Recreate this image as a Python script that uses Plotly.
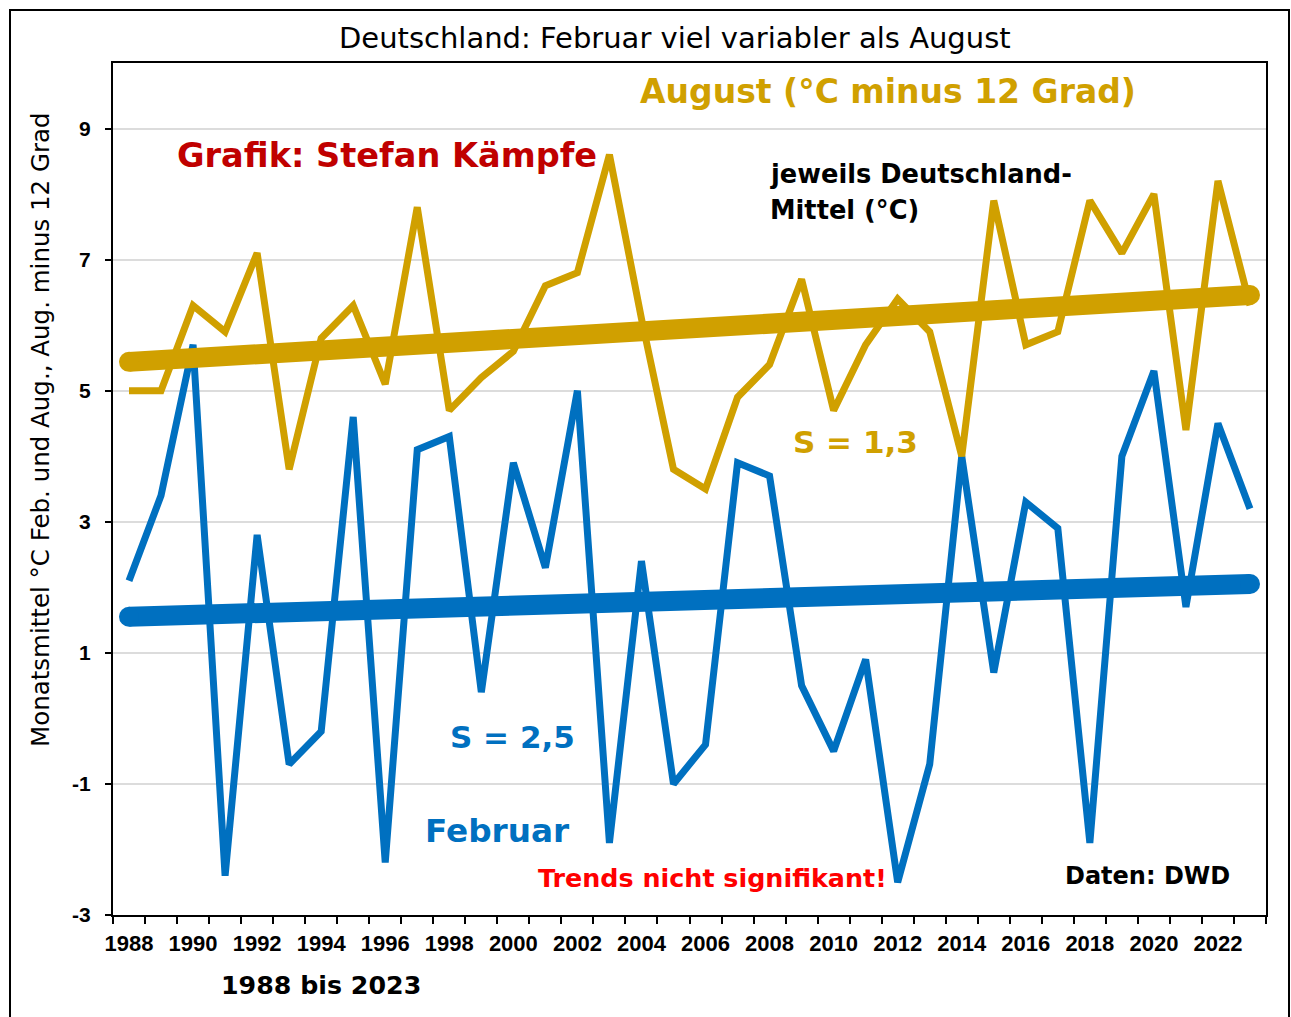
import plotly.graph_objects as go

# ---------------- data ----------------
years = list(range(1988, 2024))
feb = [2.1, 3.4, 5.7, -2.4, 2.8, -0.7, -0.2, 4.6, -2.2, 4.1, 4.3, 0.4,
       3.9, 2.3, 5.0, -1.9, 2.4, -1.0, -0.4, 3.9, 3.7, 0.5, -0.5, 0.9,
       -2.5, -0.7, 4.0, 0.7, 3.3, 2.9, -1.9, 4.0, 5.3, 1.7, 4.5, 3.2]
aug = [5.0, 5.0, 6.3, 5.9, 7.1, 3.8, 5.8, 6.3, 5.1, 7.8, 4.7, 5.2,
       5.6, 6.6, 6.8, 8.6, 6.1, 3.8, 3.5, 4.9, 5.4, 6.7, 4.7, 5.7,
       6.4, 5.9, 4.0, 7.9, 5.7, 5.9, 7.9, 7.1, 8.0, 4.4, 8.2, 6.3]
trend_years = [1988, 2023]
feb_trend = [1.55, 2.05]
aug_trend = [5.44, 6.46]
x_tick_years = list(range(1988, 2023, 2))
x_tick_labels = [str(y) for y in x_tick_years]
y_ticks = [-3, -1, 1, 3, 5, 7, 9]
y_tick_labels = ["-3", "-1", "1", "3", "5", "7", "9"]

BLUE = "#0070C0"
GOLD = "#D0A000"

W, H = 1291, 1017
L, R, T, B = 113, 25, 63, 102
PW, PH = W - L - R, H - T - B


def px(x):
    return (x - L) / PW


def py(y):
    return 1 - (y - T) / PH


fig = go.Figure()
fig.add_trace(go.Scatter(x=years, y=feb, mode="lines",
                         line=dict(color=BLUE, width=7), hoverinfo="skip"))
fig.add_trace(go.Scatter(x=trend_years, y=feb_trend, mode="lines+markers",
                         line=dict(color=BLUE, width=20),
                         marker=dict(color=BLUE, size=20), hoverinfo="skip"))
fig.add_trace(go.Scatter(x=years, y=aug, mode="lines",
                         line=dict(color=GOLD, width=7), hoverinfo="skip"))
fig.add_trace(go.Scatter(x=trend_years, y=aug_trend, mode="lines+markers",
                         line=dict(color=GOLD, width=20),
                         marker=dict(color=GOLD, size=20), hoverinfo="skip"))

ann_font = "DejaVu Sans"
annotations = [
    dict(text="Deutschland: Februar viel variabler als August", x=px(675), y=py(38),
         font=dict(family=ann_font, size=29, color="black")),
    dict(text="Monatsmittel °C Feb. und Aug., Aug. minus 12 Grad", x=px(40), y=py(430),
         textangle=-90, font=dict(family=ann_font, size=24.5, color="black")),
    dict(text="<b>August (°C minus 12 Grad)</b>", x=px(888), y=py(91),
         font=dict(family=ann_font, size=33, color=GOLD)),
    dict(text="<b>Grafik: Stefan Kämpfe</b>", x=px(387), y=py(156),
         font=dict(family=ann_font, size=33.6, color="#C00000")),
    dict(text="<b>jeweils Deutschland-</b>", x=px(768), y=py(174), xanchor="left",
         font=dict(family=ann_font, size=25.7, color="black")),
    dict(text="<b>Mittel (°C)</b>", x=px(768), y=py(210), xanchor="left",
         font=dict(family=ann_font, size=25.7, color="black")),
    dict(text="<b>S = 1,3</b>", x=px(855), y=py(442),
         font=dict(family=ann_font, size=31, color=GOLD)),
    dict(text="<b>S = 2,5</b>", x=px(512), y=py(737),
         font=dict(family=ann_font, size=31, color=BLUE)),
    dict(text="<b>Februar</b>", x=px(497), y=py(831),
         font=dict(family=ann_font, size=32.7, color=BLUE)),
    dict(text="<b>Trends nicht signifikant!</b>", x=px(712), y=py(878),
         font=dict(family=ann_font, size=25.4, color="#FF0000")),
    dict(text="<b>Daten: DWD</b>", x=px(1147), y=py(876),
         font=dict(family=ann_font, size=24, color="black")),
    dict(text="<b>1988 bis 2023</b>", x=px(321), y=py(985),
         font=dict(family=ann_font, size=25.3, color="black")),
]
for a in annotations:
    a.setdefault("xanchor", "center")
    a.update(xref="paper", yref="paper", yanchor="middle", showarrow=False)

fig.update_layout(
    width=W, height=H,
    margin=dict(l=L, r=R, t=T, b=B),
    paper_bgcolor="white", plot_bgcolor="white",
    showlegend=False,
    annotations=annotations,
    shapes=[dict(type="rect", xref="paper", yref="paper",
                 x0=px(10), x1=px(1289), y0=py(1030), y1=py(10),
                 line=dict(color="black", width=2), layer="below")],
    xaxis=dict(range=[1987.5, 2023.5], tickmode="array", tickvals=x_tick_years,
               ticktext=x_tick_labels, ticks="", showgrid=False, zeroline=False,
               showline=True, linecolor="black", linewidth=2, mirror=True,
               ticklabelstandoff=8,
               tickfont=dict(family="Liberation Sans", size=22, color="black", weight="bold"),
               minor=dict(tickmode="array", tickvals=[y - 0.5 for y in years] + [2023.5],
                          ticks="outside", ticklen=7, tickwidth=1.5, tickcolor="black",
                          showgrid=False)),
    yaxis=dict(range=[-3, 10], tickmode="array", tickvals=y_ticks,
               ticktext=y_tick_labels,
               ticks="outside", ticklen=6, tickwidth=1.5, tickcolor="black",
               showgrid=True, gridcolor="#dcdcdc", gridwidth=1.5, zeroline=False,
               showline=True, linecolor="black", linewidth=2, mirror=True,
               ticklabelstandoff=10,
               tickfont=dict(family="Liberation Sans", size=21, color="black", weight="bold")),
)

fig.write_html("out.html", config={"displayModeBar": False},
               post_script="document.body.style.margin='0px';"
                           "document.body.style.overflow='hidden';")
